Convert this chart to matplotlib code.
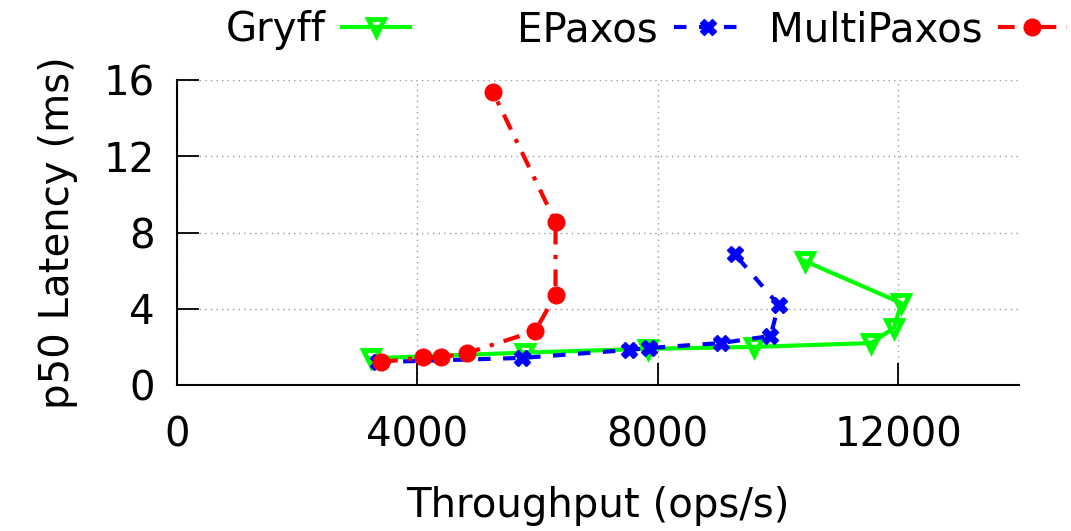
import matplotlib
matplotlib.use("Agg")
import matplotlib.pyplot as plt

# data (throughput ops/s, p50 latency ms)
gryff_x = [3230, 5800, 7830, 9600, 11550, 11930, 12050, 10450]
gryff_y = [1.40, 1.70, 1.90, 2.00, 2.20, 3.00, 4.30, 6.50]

epaxos_x = [3350, 5740, 7520, 7850, 9045, 9875, 10010, 9280]
epaxos_y = [1.20, 1.42, 1.84, 1.94, 2.20, 2.57, 4.20, 6.87]

mpaxos_x = [3400, 4100, 4400, 4830, 5960, 6300, 6300, 5260]
mpaxos_y = [1.20, 1.45, 1.45, 1.68, 2.83, 4.72, 8.55, 15.37]

x_ticks = [0, 4000, 8000, 12000]
y_ticks = [0, 4, 8, 12, 16]

plt.rcParams["font.family"] = "DejaVu Sans"
plt.rcParams["font.size"] = 29

fig = plt.figure(figsize=(10.71, 5.31), dpi=100)
ax = fig.add_axes([0.165, 0.275, 0.786, 0.574])

g, = ax.plot(gryff_x, gryff_y, color="#00ff00", lw=3, marker="v", ms=11,
             mfc="none", mew=3.5, label="Gryff")
e, = ax.plot(epaxos_x, epaxos_y, color="#0000ff", lw=3, ls=(0, (3, 3)),
             marker="X", ms=12, label="EPaxos")
m, = ax.plot(mpaxos_x, mpaxos_y, color="#ff0000", lw=3,
             ls=(0, (4, 2.5, 1, 2.5)), marker="o", ms=12, label="MultiPaxos")

ax.set_xlim(0, 14000)
ax.set_ylim(0, 16)
ax.set_xticks(x_ticks)
ax.set_yticks(y_ticks)
ax.grid(True, color="#999999", ls=(0, (1, 3)), lw=1)
ax.tick_params(direction="in", length=16, width=1.3, pad=22)
ax.tick_params(axis="y", pad=16)
ax.spines["top"].set_visible(False)
ax.spines["right"].set_visible(False)
ax.spines["left"].set_linewidth(1.5)
ax.spines["bottom"].set_linewidth(1.5)

ax.set_xlabel("Throughput (ops/s)", labelpad=22)
ax.set_ylabel("p50 Latency (ms)", labelpad=18)

# gnuplot-style key: one entry each, text then sample
for h, xr in [(g, 0.383), (e, 0.693), (m, 0.996)]:
    fig.legend(handles=[h], loc="center right", bbox_to_anchor=(xr, 0.943),
               frameon=False, markerfirst=False, handlelength=1.7,
               handletextpad=0.4, borderpad=0, borderaxespad=0)

fig.savefig("out.png", dpi=100)
